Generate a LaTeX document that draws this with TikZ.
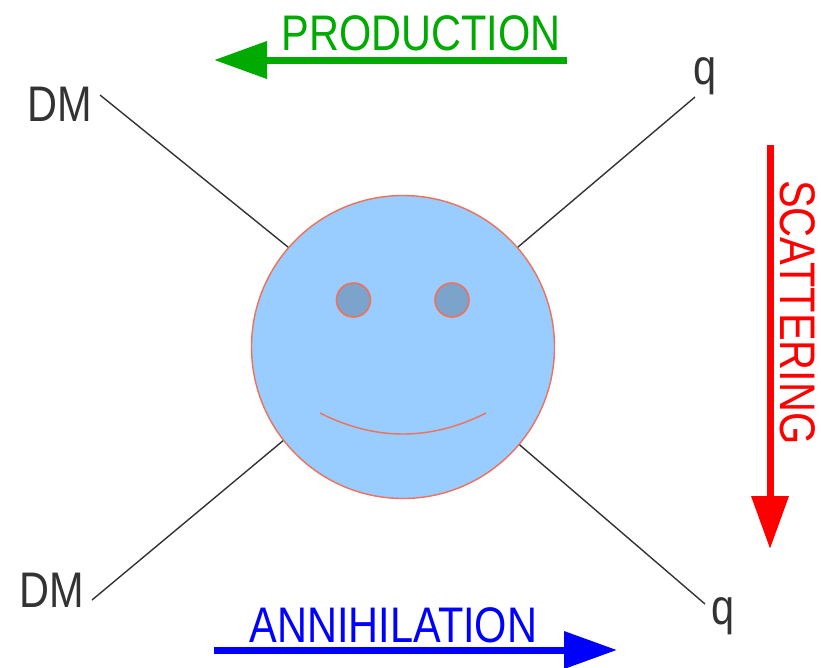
\documentclass[tikz,border=0pt]{standalone}
\usepackage{fontspec}
\setmainfont{Liberation Sans}
\usetikzlibrary{arrows.meta}
\definecolor{facefill}{HTML}{99CCFF}
\definecolor{eyefill}{HTML}{7BA3CC}
\definecolor{outlinec}{HTML}{F0705A}
\definecolor{prodgreen}{HTML}{00AA00}
\definecolor{labelgrey}{HTML}{333333}
\newcommand{\sq}[1]{\scalebox{.83}[1]{#1}}
\tikzset{
  facecirc/.style={circle,draw=outlinec,fill=facefill,line width=1.4pt,minimum size=303pt,inner sep=0pt},
  eyecirc/.style={circle,draw=outlinec,fill=eyefill,line width=1.6pt,minimum size=34pt,inner sep=0pt},
  smileline/.style={draw=outlinec,line width=1.4pt},
  leg/.style={draw=labelgrey,line width=1.4pt},
  particle/.style={text=labelgrey,font=\fontsize{50}{50}\selectfont,inner sep=0pt},
  proc/.style={font=\fontsize{50}{50}\selectfont,inner sep=0pt},
  flow/.style={line width=7pt,-{Triangle[length=53pt,width=36pt]}},
}
\begin{document}
\begin{tikzpicture}[x=1pt,y=-1pt]
\useasboundingbox (0,0) rectangle (821,667);
\node[facecirc] (face) at (403,347) {};
\node[eyecirc] (eyeL) at (353.5,300) {};
\node[eyecirc] (eyeR) at (452,300) {};
\coordinate (smileL) at (320,413);
\coordinate (smileR) at (486,413);
\draw[smileline] (smileL) .. controls (375,441) and (431,441) .. (smileR);
\coordinate (endTL) at (100,95);
\coordinate (endTR) at (695,97);
\coordinate (endBL) at (92,600);
\coordinate (endBR) at (705,604);
\draw[leg] (endTL) -- (face.139.6);
\draw[leg] (endTR) -- (face.41.7);
\draw[leg] (endBL) -- (face.218.5);
\draw[leg] (endBR) -- (face.-40);
\node[particle] (dmT) at (60,104) {\sq{DM}};
\node[particle] (dmB) at (52,590) {\sq{DM}};
\node[particle] (qT) at (705,76) {\sq{q}};
\node[particle] (qB) at (723,616) {\sq{q}};
\coordinate (prodA) at (567,60);
\coordinate (prodB) at (214,60);
\draw[flow,draw=prodgreen,fill=prodgreen] (prodA) -- (prodB);
\node[proc,text=prodgreen] (prodT) at (421,33) {\sq{PRODUCTION}};
\coordinate (annA) at (214,650);
\coordinate (annB) at (617,650);
\draw[flow,draw=blue,fill=blue] (annA) -- (annB);
\node[proc,text=blue] (annT) at (393.5,625) {\sq{ANNIHILATION}};
\coordinate (scatA) at (770,145);
\coordinate (scatB) at (770,549);
\draw[flow,draw=red,fill=red] (scatA) -- (scatB);
\node[proc,text=red,rotate=-90] (scatT) at (798,312.5) {\sq{SCATTERING}};
\end{tikzpicture}
\end{document}
